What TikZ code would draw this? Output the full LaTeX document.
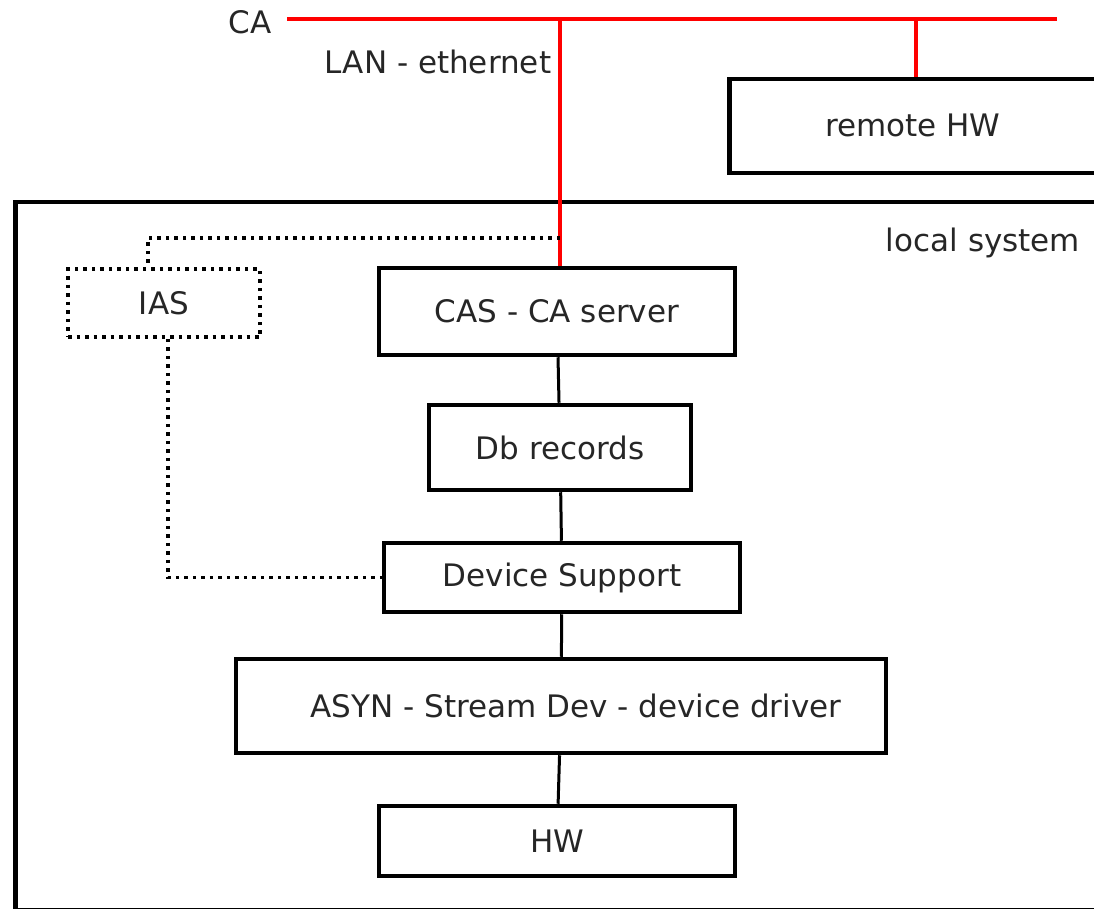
\documentclass[tikz,border=0pt]{standalone}
\usepackage{fontspec}
\setmainfont{DejaVu Sans}
\begin{document}
\begin{tikzpicture}[x=1pt,y=-1pt,
  every node/.style={font=\fontsize{31}{36}\selectfont, text=black!85},
  blk/.style={draw=black, line width=4.5pt, inner sep=0pt, rectangle},
  redline/.style={draw=red, line width=3.5pt},
  conn/.style={draw=black, line width=3pt},
  dotline/.style={draw=black, line width=3.5pt, dash pattern=on 3.5pt off 5pt},
  dotbox/.style={draw=black, line width=3.5pt, dash pattern=on 3.5pt off 5pt, inner sep=0pt, rectangle}]
\useasboundingbox (0,0) rectangle (1094,909);
\clip (0,0) rectangle (1094,909);
% local system frame
\node[blk, anchor=north west, minimum width=1110pt, minimum height=707.5pt] (loc) at (13,200) {};
\node (loct) at (983,243) {local system};
% remote HW
\node[blk, anchor=north west, minimum width=400pt, minimum height=94pt] (rhw) at (727,77) {};
\node (rhwt) at (913,125) {remote HW};
% nodes
\node[blk, minimum width=356pt, minimum height=87pt] (cas) at (557,311.5) {CAS - CA server};
\node[blk, minimum width=262pt, minimum height=85pt] (db) at (560,447.5) {Db records};
\node[blk, minimum width=356pt, minimum height=69pt] (ds) at (562,577.5) {Device Support};
\node[blk, minimum width=650pt, minimum height=94pt] (asyn) at (561,706) {\hspace*{30pt}ASYN - Stream Dev - device driver};
\node[blk, minimum width=356pt, minimum height=70pt] (hw) at (557,841) {HW};
\node[dotbox, minimum width=192pt, minimum height=68pt] (ias) at (164,303) {IAS};
% CA bus
\node (ca) at (250,22) {CA};
\node (lan) at (438,62) {LAN - ethernet};
\coordinate (caL) at (287,19);
\coordinate (caR) at (1057,19);
\coordinate (tapA) at (560,19);
\coordinate (tapB) at (916,19);
\draw[redline] (caL) -- (caR);
\draw[redline] (tapA) -- (tapA |- cas.north);
\draw[redline] (tapB) -- (tapB |- rhw.north);
% connectors
\draw[conn] (cas) -- (db);
\draw[conn] (db) -- (ds);
\draw[conn] (ds) -- (asyn);
\draw[conn] (asyn) -- (hw);
% dotted links
\coordinate (dA) at (560,238);
\coordinate (dB) at (148,238);
\coordinate (dC) at (168,577.5);
\draw[dotline] (dA) -- (dB) -- (dB |- ias.north);
\draw[dotline] (ias.south -| dC) -- (dC) -- (ds.west);
\end{tikzpicture}
\end{document}
